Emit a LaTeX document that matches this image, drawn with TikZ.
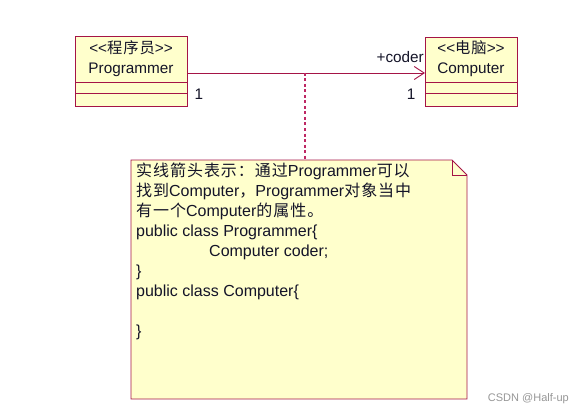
\documentclass[tikz,border=0pt]{standalone}
\usepackage{fontspec}
\setmainfont{Liberation Sans}
\newfontfamily\cjk[LetterSpace=6]{Noto Sans CJK SC}
\usetikzlibrary{arrows.meta}
\definecolor{umlborder}{RGB}{165,20,70}
\definecolor{umldot}{RGB}{190,40,100}
\definecolor{umlfill}{RGB}{255,255,204}
\definecolor{umltext}{RGB}{20,20,40}
\definecolor{wm}{RGB}{150,150,150}
\newcommand{\dlt}{<\kern0pt<}
\newcommand{\dgt}{>\kern0pt>}
\begin{document}
\begin{tikzpicture}[x=1pt,y=-1pt,
  box/.style={draw=umlborder,fill=umlfill,line width=0.9pt},
  lbl/.style={font=\fontsize{15.3}{18}\selectfont,text=umltext,inner sep=0pt},
  assoc/.style={draw=umlborder,line width=0.9pt},
  anchorline/.style={draw=umldot,line width=1.3pt,dash pattern=on 3pt off 2.5pt}]
\useasboundingbox (0,0) rectangle (583,417);
% Programmer class
\draw[box] (75,36) rectangle (187,106);
\draw[umlborder,line width=0.9pt] (75,82) -- (187,82) (75,93) -- (187,93);
\node[lbl] (pst) at (131,48) {\dlt{\cjk 程序员}\dgt};
\node[lbl] (pname) at (131,70) {Programmer};
\coordinate (pr) at (187,73);
% Computer class
\draw[box] (425,37) rectangle (517,106);
\draw[umlborder,line width=0.9pt] (425,82) -- (517,82) (425,93) -- (517,93);
\node[lbl] (cst) at (471,48) {\dlt{\cjk 电脑}\dgt};
\node[lbl] (cname) at (471,70) {Computer};
\coordinate (cl) at (425,73);
% association
\draw[assoc,-{Straight Barb[length=10pt,width=13pt,line width=0.9pt]}] (pr) -- (cl);
\node[lbl,anchor=south east] (role) at (424,63) {+coder};
\node[lbl] (m1) at (199,94) {1};
\node[lbl] (m2) at (411,94) {1};
% note
\draw[box] (131,160) -- (452,160) -- (467,175) -- (467,399) -- (131,399) -- cycle;
\draw[umlborder,line width=0.9pt] (452,160) -- (452,175) -- (467,175);
\coordinate (mid) at (305,73);
\coordinate (ntop) at (305,160);
\draw[anchorline] (mid) -- (ntop);
\node[lbl,anchor=north west,align=left,font=\fontsize{16}{20}\selectfont] (note) at (136,163) {%
{\cjk 实线箭头表示：通过}Programmer{\cjk 可以}\\
{\cjk 找到}Computer{\cjk ，}Programmer{\cjk 对象当中}\\
{\cjk 有一个}Computer{\cjk 的属性。}\\
public class Programmer\{\\
\hspace*{73pt}Computer coder;\\
\}\\
public class Computer\{\\
\strut\\
\}};
\node[font=\fontsize{11}{13}\selectfont,text=wm,anchor=east,inner sep=0pt] (wmk) at (569,399) {CSDN @Half-up};
\end{tikzpicture}
\end{document}
